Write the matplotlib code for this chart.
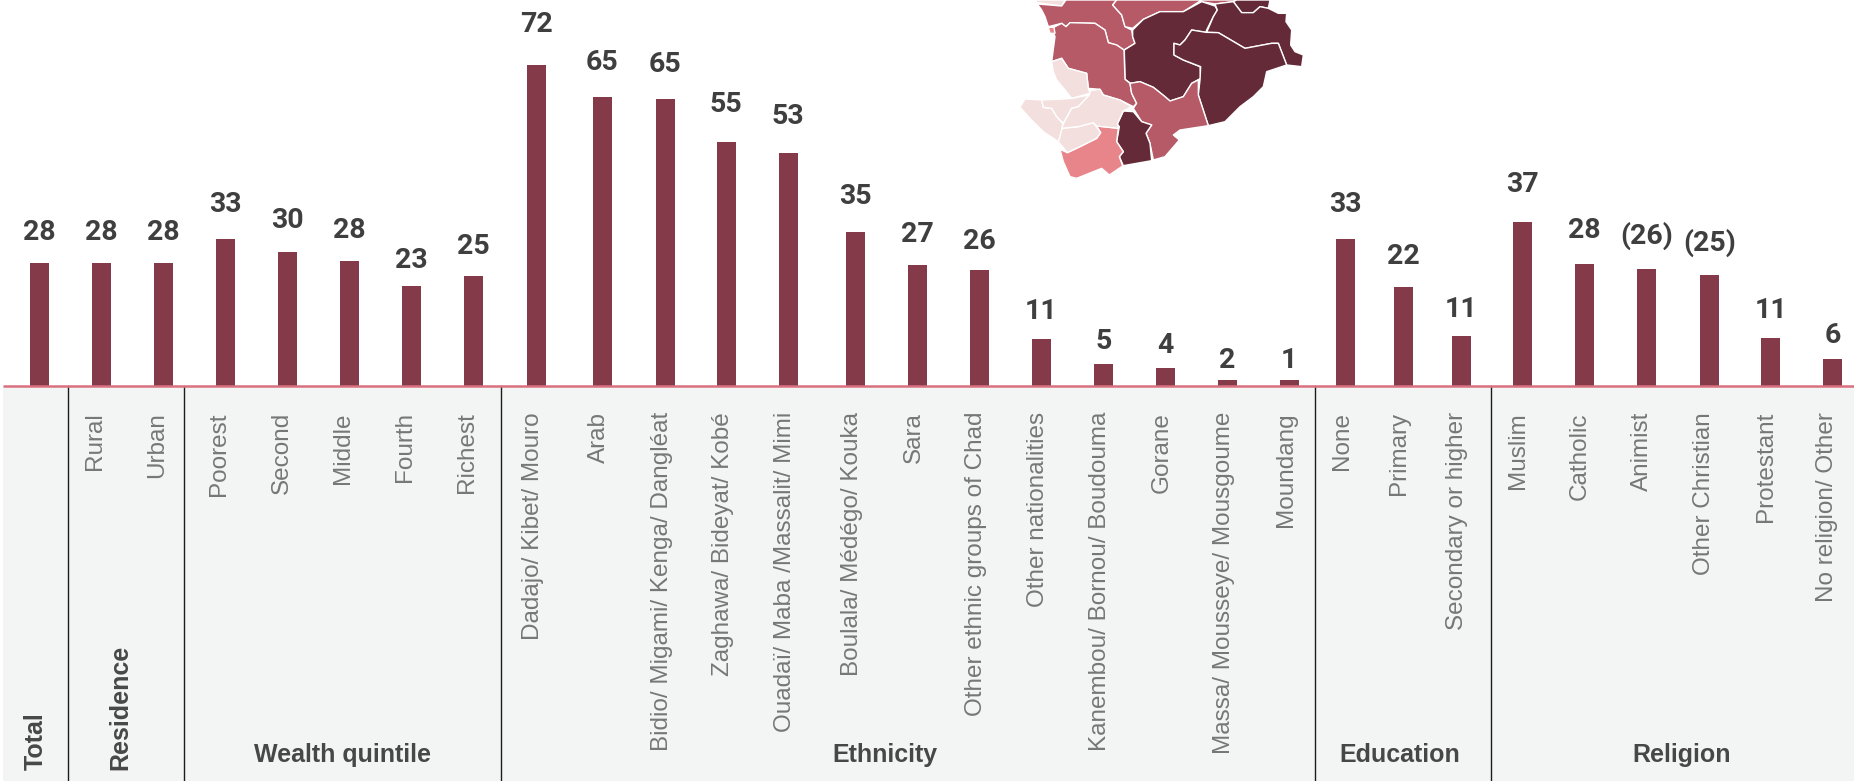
import matplotlib
matplotlib.use("Agg")
from matplotlib import pyplot as plt
from matplotlib.patches import Polygon, Rectangle

FIG_W, FIG_H = 1854, 781
BASE_PX = 386
PX_PER_UNIT = 4.45

categories = ["", "Rural", "Urban", "Poorest", "Second", "Middle", "Fourth", "Richest",
              "Dadajo/ Kibet/ Mouro", "Arab", "Bidio/ Migami/ Kenga/ Dangléat",
              "Zaghawa/ Bideyat/ Kobé", "Ouadaï/ Maba /Massalit/ Mimi", "Boulala/ Médégo/ Kouka",
              "Sara", "Other ethnic groups of Chad", "Other nationalities",
              "Kanembou/ Bornou/ Boudouma", "Gorane", "Massa/ Mousseye/ Mousgoume", "Moundang",
              "None", "Primary", "Secondary or higher",
              "Muslim", "Catholic", "Animist", "Other Christian", "Protestant", "No religion/ Other"]
bar_values = [27.7, 27.7, 27.7, 33.0, 30.1, 28.0, 22.5, 24.8,
              72.1, 64.9, 64.5, 54.8, 52.4, 34.6, 27.2, 26.1, 10.6, 4.9, 4.0, 1.3, 1.3,
              33.0, 22.2, 11.2,
              36.9, 27.4, 26.3, 24.9, 10.8, 6.0]
value_labels = ["28", "28", "28", "33", "30", "28", "23", "25",
                "72", "65", "65", "55", "53", "35", "27", "26", "11", "5", "4", "2", "1",
                "33", "22", "11",
                "37", "28", "(26)", "(25)", "11", "6"]
group_names = ["Wealth quintile", "Ethnicity", "Education", "Religion"]

# layout, in pixels of the reference
bar_x = [39.5, 101.5, 163.5, 225.5, 287.5, 349.5, 411.5, 473.5,
         536.5, 602.3, 665.3, 726.3, 788.3, 855.3, 917.3, 979.3, 1041.3, 1103.3, 1165.3, 1227.3, 1289.3,
         1345.6, 1403.5, 1461.5,
         1522.6, 1584.4, 1646.6, 1709.5, 1770.7, 1832.5]
label_y = [230, 230, 230, 203, 219, 228, 258, 244,
           23, 61, 63, 102, 115, 194, 233, 239, 309, 339, 343, 358, 358,
           203, 255, 307,
           183, 228, 234, 241, 308, 333]
tick_shift = [0, -6.5, -6, -6.5, -6, -6.5, -6.5, -6.5,
              -3.5, -3.5, -3.5, -3.5, -3.5, -3.5, -3.5, -3.5, -3.5, -3.5, -3.5, -3.5, -3.5,
              -4, -4, -4,
              -5, -5, -5, -5, -5, -5]
dividers = [68.5, 184.5, 501, 1315, 1491.5]
group_x = [343, 885, 1400, 1682]

map_regions = [
    ("#f3dfde", [(165,0),(255,0),(245,18),(172,8)]),
    ("#f3dfde", [(305,0),(380,0),(350,5),(310,5)]),
    ("#b55a66", [(172,12),(245,18),(258,0),(410,0),(398,15),(425,45),(435,80),(455,90),(458,110),(465,130),(432,150),(410,135),(385,128),(375,90),(345,70),(270,68),(258,80),(245,70),(205,80),(195,50),(185,30)]),
    ("#b55a66", [(410,0),(665,0),(610,35),(540,35),(490,58),(458,85),(435,80),(425,45),(398,15)]),
    ("#b55a66", [(665,0),(775,0),(760,5),(705,12),(665,5)]),
    ("#652a38", [(760,5),(770,0),(870,0),(865,25),(840,20),(820,38),(785,38)]),
    ("#652a38", [(458,90),(490,58),(540,35),(610,35),(665,5),(705,18),(712,30),(700,50),(680,90),(678,97),(635,90),(615,120),(600,135),(582,130),(582,165),(610,180),(660,200),(662,235),(635,250),(610,290),(570,303),(555,290),(520,262),(480,245),(452,250),(435,238),(433,150),(465,130),(458,110)]),
    ("#652a38", [(712,30),(705,12),(760,5),(785,38),(820,38),(840,20),(865,25),(895,40),(920,40),(918,65),(935,90),(932,135),(945,155),(970,165),(965,200),(920,195),(895,130),(875,130),(795,145),(715,98),(680,97),(700,50)]),
    ("#652a38", [(635,90),(678,97),(715,98),(795,145),(875,130),(895,130),(920,195),(860,215),(850,260),(820,290),(780,320),(735,365),(685,377),(655,285),(660,240),(662,200),(610,180),(582,165),(582,130),(600,135),(615,120)]),
    ("#b55a66", [(215,185),(245,175),(265,205),(320,220),(325,265),(360,268),(370,285),(420,300),(460,320),(470,310),(455,280),(450,250),(435,238),(432,150),(410,135),(385,128),(375,90),(345,70),(270,68),(258,80),(245,70),(215,85),(225,110)]),
    ("#b55a66", [(450,250),(480,245),(520,262),(555,290),(570,303),(610,290),(635,250),(655,240),(655,285),(685,377),(600,390),(580,405),(598,420),(555,470),(520,480),(510,430),(498,400),(515,375),(485,365),(460,325),(470,310),(455,280)]),
    ("#652a38", [(430,333),(460,335),(485,365),(515,375),(498,400),(510,430),(515,482),(430,497),(418,470),(430,455),(410,425),(418,380),(412,372)]),
    ("#e8858b", [(350,378),(415,385),(410,425),(430,455),(418,470),(428,498),(388,525),(365,505),(340,515),(290,535),(270,530),(250,485),(240,448),(262,458),(300,440),(350,415),(362,398)]),
    ("#f3dfde", [(235,425),(245,385),(295,380),(340,368),(362,398),(350,415),(300,440),(262,458)]),
    ("#f3dfde", [(120,322),(135,297),(185,300),(190,322),(215,325),(230,350),(250,372),(235,425),(190,395),(150,355)]),
    ("#f3dfde", [(185,300),(250,297),(275,295),(328,285),(295,320),(275,325),(250,370),(230,350),(215,325),(190,322)]),
    ("#f3dfde", [(250,372),(275,325),(295,320),(328,285),(330,272),(360,268),(370,285),(420,300),(455,320),(430,333),(412,372),(415,385),(350,378),(340,368),(295,380),(245,385)]),
    ("#f3dfde", [(215,185),(245,175),(265,205),(320,220),(325,265),(330,280),(275,295),(255,270),(230,240),(220,215)]),
    ("#e8858b", [(205,82),(222,82),(225,100),(210,100)]),
]

BAR_COLOR = "#843a49"
TICK_COLOR = "#777777"
HEAD_COLOR = "#474747"
VALUE_COLOR = "#3f3f3f"


def y_val(px):
    # pixel row of the reference to value units
    return (BASE_PX - px) / PX_PER_UNIT


plt.rcParams["font.family"] = ["Roboto", "Liberation Sans", "DejaVu Sans"]

fig = plt.figure(figsize=(FIG_W / 100, FIG_H / 100), dpi=100, facecolor="white")
ax = fig.add_axes([0, 0, 1, 1])
ax.set_xlim(0, FIG_W)
ax.set_ylim(y_val(FIG_H), y_val(0))
ax.axis("off")

ax.add_patch(Rectangle((3, y_val(FIG_H)), FIG_W - 3, -y_val(FIG_H), color="#f3f5f4", lw=0, zorder=0))
ax.bar(bar_x, bar_values, width=19, color=BAR_COLOR, zorder=2)
ax.plot([3, FIG_W], [0, 0], color="#d9707f", lw=1.8, zorder=3, solid_capstyle="butt")
for d in dividers:
    ax.plot([d, d], [y_val(FIG_H), 0], color="#1c1c1c", lw=1, zorder=1)

for x, lab, ly in zip(bar_x, value_labels, label_y):
    ax.text(x, y_val(ly + 2), lab, ha="center", va="center", fontsize=20.5,
            fontweight="bold", color=VALUE_COLOR, zorder=4)

for x, lab, sh in zip(bar_x, categories, tick_shift):
    ax.text(x + sh, y_val(412), lab, rotation=90, ha="center", va="top", fontsize=17.5,
            color=TICK_COLOR, family=["Liberation Sans"], zorder=4)

ax.text(36, y_val(770), "Total", rotation=90, ha="center", va="bottom", fontsize=18,
        fontweight="bold", color=HEAD_COLOR, family=["Liberation Sans"])
ax.text(120, y_val(770), "Residence", rotation=90, ha="center", va="bottom", fontsize=18,
        fontweight="bold", color=HEAD_COLOR, family=["Liberation Sans"])
for x, name in zip(group_x, group_names):
    ax.text(x, y_val(755), name, ha="center", va="center", fontsize=18,
            fontweight="bold", color=HEAD_COLOR, family=["Liberation Sans"])

# map inset, drawn in the coordinates of its own crop
mp = fig.add_axes([980 / FIG_W, 1 - 190 / FIG_H, 360 / FIG_W, 190 / FIG_H])
mp.set_xlim(0, 1080)
mp.set_ylim(570, 0)
mp.axis("off")
mp.patch.set_alpha(0)
for color, pts in map_regions:
    mp.add_patch(Polygon(pts, closed=True, facecolor=color, edgecolor="white", lw=1.0, joinstyle="round"))

fig.savefig("out.png", dpi=100, facecolor="white")
